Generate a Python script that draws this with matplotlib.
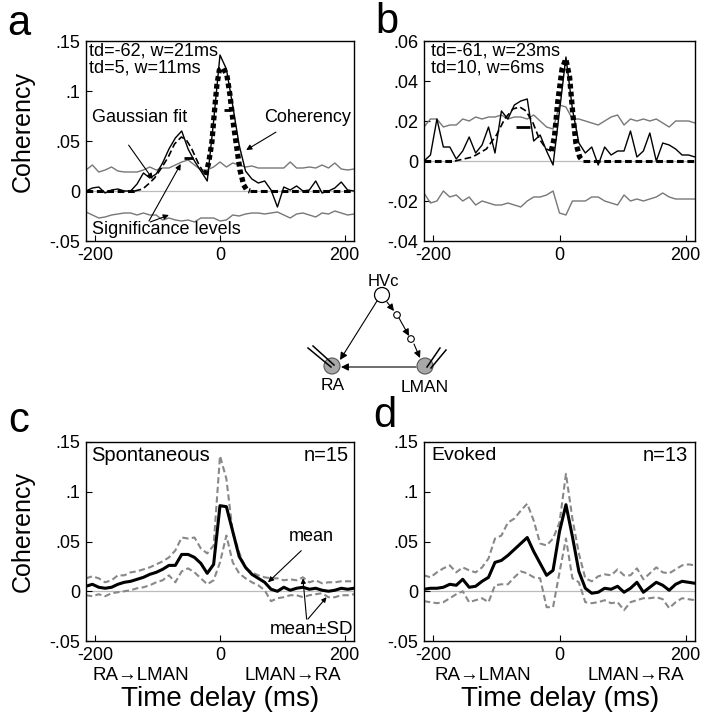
import numpy as np
import matplotlib
matplotlib.use('Agg')
import matplotlib.pyplot as plt
from matplotlib.patches import Circle

plt.rcParams['font.family'] = ['Liberation Sans', 'DejaVu Sans']

# time axis (ms), 43 bins across the window
t = np.linspace(-215, 215, 43)

# ---- panel a ----
coh_a = [0.000, 0.003, 0.004, -0.002, 0.001, 0.002, 0.000, 0.000, 0.007, 0.018, 0.013,
         0.017, 0.028, 0.042, 0.053, 0.060, 0.042, 0.030, 0.020, 0.010, 0.070, 0.136,
         0.122, 0.085, 0.046, 0.020, 0.012, 0.008, 0.010, 0.001, -0.016, 0.004, 0.001,
         0.005, 0.000, 0.001, 0.010, -0.002, 0.000, 0.003, 0.009, 0.001, 0.000]
sig_hi_a = [0.021, 0.026, 0.019, 0.021, 0.024, 0.020, 0.019, 0.019, 0.019, 0.021, 0.024,
            0.021, 0.023, 0.023, 0.026, 0.029, 0.031, 0.026, 0.021, 0.021, 0.024, 0.029,
            0.024, 0.028, 0.026, 0.024, 0.025, 0.023, 0.023, 0.023, 0.023, 0.023, 0.029,
            0.023, 0.023, 0.024, 0.023, 0.026, 0.023, 0.028, 0.022, 0.021, 0.022]
sig_lo_a = [-0.021, -0.024, -0.027, -0.026, -0.024, -0.023, -0.022, -0.022, -0.024, -0.022,
            -0.024, -0.024, -0.029, -0.027, -0.029, -0.030, -0.029, -0.031, -0.027, -0.027,
            -0.027, -0.030, -0.029, -0.024, -0.025, -0.023, -0.022, -0.022, -0.023, -0.022,
            -0.021, -0.024, -0.027, -0.023, -0.022, -0.024, -0.026, -0.022, -0.023, -0.020,
            -0.022, -0.024, -0.023]
fit1_t_a = [-137, -124, -113, -105, -94, -83, -73, -62, -54, -46, -35, -27, -23]
fit1_v_a = [0.000, 0.002, 0.008, 0.013, 0.023, 0.034, 0.047, 0.054, 0.051, 0.043, 0.028, 0.019, 0.016]
fit2_t_a = [-23, -18, -13, -9, -5, -1, 5, 11, 16, 21, 27, 32, 38, 43, 48]
fit2_v_a = [0.016, 0.029, 0.049, 0.079, 0.106, 0.121, 0.123, 0.116, 0.096, 0.069, 0.043,
            0.021, 0.006, 0.001, 0.000]
base_a = [(-215, -137), (48, 215)]
bars_a = [(-57, -43, 0.033), (7, 16, 0.081)]

# ---- panel b ----
coh_b = [0.000, 0.003, 0.021, 0.007, 0.007, 0.001, 0.005, 0.012, 0.004, 0.008, 0.017,
         0.004, 0.025, 0.021, 0.028, 0.030, 0.031, 0.010, 0.013, 0.005, -0.002, 0.025,
         0.052, 0.026, 0.009, 0.004, 0.007, -0.002, 0.007, 0.003, 0.005, 0.005, 0.015,
         0.002, 0.005, 0.014, 0.000, 0.009, 0.008, 0.006, 0.003, 0.003, 0.002]
sig_hi_b = [0.017, 0.021, 0.021, 0.017, 0.018, 0.018, 0.021, 0.020, 0.022, 0.021, 0.022,
            0.022, 0.023, 0.021, 0.022, 0.022, 0.021, 0.023, 0.020, 0.017, 0.016, 0.028,
            0.027, 0.021, 0.021, 0.020, 0.019, 0.018, 0.020, 0.022, 0.023, 0.018, 0.021,
            0.020, 0.021, 0.020, 0.021, 0.019, 0.017, 0.020, 0.020, 0.020, 0.019]
sig_lo_b = [-0.016, -0.021, -0.020, -0.015, -0.018, -0.017, -0.020, -0.018, -0.022, -0.020,
            -0.021, -0.022, -0.022, -0.021, -0.022, -0.023, -0.020, -0.018, -0.018, -0.017,
            -0.015, -0.026, -0.027, -0.020, -0.020, -0.020, -0.018, -0.018, -0.020, -0.021,
            -0.022, -0.017, -0.020, -0.019, -0.020, -0.019, -0.018, -0.016, -0.018, -0.019,
            -0.019, -0.019, -0.019]
fit1_t_b = [-166, -138, -116, -100, -87, -74, -63, -53, -42, -32, -21, -13]
fit1_v_b = [0.000, 0.002, 0.006, 0.013, 0.021, 0.026, 0.027, 0.025, 0.019, 0.011, 0.006, 0.005]
fit2_t_b = [-13, -8, -3, 4, 10, 16, 21, 26, 32, 37]
fit2_v_b = [0.005, 0.012, 0.029, 0.046, 0.051, 0.042, 0.024, 0.009, 0.002, 0.000]
base_b = [(-215, -166), (37, 215)]
bars_b = [(-69, -47, 0.017)]

# ---- panel c (spontaneous) ----
mean_c = [0.005, 0.007, 0.004, 0.003, 0.004, 0.007, 0.009, 0.010, 0.012, 0.014, 0.017,
          0.019, 0.022, 0.026, 0.026, 0.037, 0.037, 0.034, 0.028, 0.018, 0.027, 0.086,
          0.085, 0.060, 0.035, 0.024, 0.017, 0.013, 0.009, 0.002, 0.000, 0.004, 0.001,
          0.003, 0.004, 0.002, 0.003, 0.001, 0.000, 0.001, 0.003, 0.002, 0.003]
sd_hi_c = [0.013, 0.015, 0.013, 0.009, 0.011, 0.016, 0.016, 0.019, 0.020, 0.022, 0.024,
           0.027, 0.030, 0.034, 0.041, 0.054, 0.053, 0.054, 0.043, 0.038, 0.046, 0.136,
           0.113, 0.059, 0.039, 0.023, 0.019, 0.016, 0.014, 0.013, 0.013, 0.011, 0.012,
           0.011, 0.014, 0.009, 0.011, 0.008, 0.009, 0.009, 0.010, 0.010, 0.010]
sd_lo_c = [-0.004, -0.005, -0.003, -0.005, -0.002, -0.001, 0.000, 0.001, 0.003, 0.004, 0.006,
           0.009, 0.011, 0.016, 0.009, 0.020, 0.023, 0.019, 0.013, 0.007, 0.011, 0.029,
           0.056, 0.029, 0.018, 0.013, 0.009, 0.006, 0.001, -0.010, -0.007, -0.006, -0.004,
           -0.004, -0.006, -0.004, -0.003, -0.002, -0.006, -0.006, -0.004, -0.004, -0.003]

# ---- panel d (evoked) ----
mean_d = [0.002, 0.003, 0.003, 0.004, 0.007, 0.006, 0.012, 0.004, 0.005, 0.010, 0.014,
          0.029, 0.031, 0.036, 0.042, 0.048, 0.054, 0.040, 0.028, 0.016, 0.021, 0.060,
          0.087, 0.055, 0.020, 0.003, -0.002, -0.001, 0.003, 0.002, 0.005, -0.001, 0.003,
          0.009, -0.001, 0.004, 0.009, 0.006, 0.001, 0.007, 0.010, 0.009, 0.008]
sd_hi_d = [0.016, 0.014, 0.019, 0.023, 0.026, 0.019, 0.024, 0.021, 0.019, 0.024, 0.033,
           0.053, 0.056, 0.069, 0.073, 0.081, 0.088, 0.071, 0.048, 0.046, 0.053, 0.069,
           0.118, 0.073, 0.038, 0.013, 0.010, 0.015, 0.017, 0.016, 0.022, 0.016, 0.016,
           0.023, 0.012, 0.018, 0.024, 0.019, 0.018, 0.022, 0.026, 0.027, 0.026]
sd_lo_d = [-0.010, -0.011, -0.012, -0.011, -0.007, -0.003, 0.000, -0.011, -0.009, -0.007,
           -0.011, 0.006, 0.007, 0.007, 0.014, 0.020, 0.018, 0.014, 0.013, -0.016, -0.016,
           0.019, 0.053, 0.013, 0.009, -0.011, -0.012, -0.011, -0.009, -0.012, -0.011,
           -0.019, -0.011, -0.009, -0.007, -0.007, -0.006, -0.008, -0.017, -0.011, -0.007,
           -0.008, -0.009]

W, H = 702, 719
fig = plt.figure(figsize=(W / 100, H / 100), dpi=100)


def px_axes(x0, y0, x1, y1):
    return fig.add_axes([x0 / W, 1 - y1 / H, (x1 - x0) / W, (y1 - y0) / H])


def style(ax, ylim, yticks, ylabels):
    ax.set_xlim(-215, 215)
    ax.set_ylim(*ylim)
    ax.set_xticks([-200, 0, 200])
    ax.set_xticklabels(['-200', '0', '200'])
    ax.set_yticks(yticks)
    ax.set_yticklabels(ylabels)
    ax.tick_params(direction='in', length=4, width=0.8, labelsize=13, pad=4)
    for s in ax.spines.values():
        s.set_linewidth(1.0)
    ax.axhline(0, color='#bbbbbb', lw=0.9, zorder=1)


def draw_fit(ax, base, t1, v1, t2, v2, bars):
    for a, b in base:
        ax.plot([a, b], [0, 0], color='k', lw=2.2, ls=(0, (2.2, 1.2)), zorder=4)
    ax.plot(t1, v1, color='k', lw=1.2, ls=(0, (4, 2)), zorder=4)
    ax.plot(t2, v2, color='k', lw=3.8, ls=(0, (0.9, 0.6)), zorder=4)
    for a, b, y in bars:
        ax.plot([a, b], [y, y], color='k', lw=2.0, solid_capstyle='butt', zorder=5)


def arrow(ax, tip, tail, ms=8):
    ax.annotate('', xy=tip, xytext=tail,
                arrowprops=dict(arrowstyle='-|>', lw=0.8, color='k', mutation_scale=ms,
                                shrinkA=0, shrinkB=0))


ylab_a = ['-.05', '0', '.05', '.1', '.15']
ticks_a = [-0.05, 0, 0.05, 0.1, 0.15]

# diagram layer (pixel coordinates)
ax0 = fig.add_axes([0, 0, 1, 1])
ax0.set_xlim(0, W)
ax0.set_ylim(H, 0)
ax0.axis('off')
arrow(ax0, (340, 360), (377, 301), 11)
arrow(ax0, (341, 367), (416, 367), 11)
arrow(ax0, (394, 311), (387, 302), 10)
arrow(ax0, (409, 336), (399, 318), 10)
arrow(ax0, (420, 358), (414, 344), 10)
ax0.add_patch(Circle((382, 295), 7.5, fc='white', ec='k', lw=0.9))
ax0.add_patch(Circle((397, 315), 3.3, fc='white', ec='k', lw=0.8))
ax0.add_patch(Circle((411, 339), 3.3, fc='white', ec='k', lw=0.8))
ax0.add_patch(Circle((332, 366), 8, fc='#a8a8a8', ec='#555555', lw=0.8))
ax0.add_patch(Circle((425, 366), 8, fc='#a8a8a8', ec='#555555', lw=0.8))
ax0.plot([308, 331], [348, 367], color='k', lw=1.1)
ax0.plot([313, 334], [346, 365], color='k', lw=1.1)
ax0.plot([440, 427], [348, 367], color='k', lw=1.1)
ax0.plot([446, 431], [350, 368], color='k', lw=1.1)
ax0.text(383, 282, 'HVc', ha='center', va='center', fontsize=12)
ax0.text(333, 386, 'RA', ha='center', va='center', fontsize=12.5)
ax0.text(425, 387, 'LMAN', ha='center', va='center', fontsize=12.5)

# panel a
ax = px_axes(86, 41, 354, 241)
style(ax, (-0.05, 0.15), ticks_a, ylab_a)
ax.plot(t, sig_hi_a, color='#777777', lw=1.0, zorder=2)
ax.plot(t, sig_lo_a, color='#777777', lw=1.0, zorder=2)
ax.plot(t, coh_a, color='k', lw=1.0, zorder=3)
draw_fit(ax, base_a, fit1_t_a, fit1_v_a, fit2_t_a, fit2_v_a, bars_a)
ax.set_ylabel('Coherency', fontsize=18)
ax.yaxis.set_label_coords(-0.19, 0.55)
ax.text(-210, 0.148, 'td=-62, w=21ms\ntd=5, w=11ms', fontsize=13, va='top', linespacing=0.95)
ax.annotate('Gaussian fit', xy=(-108, 0.012), xytext=(-206, 0.073), fontsize=13,
            va='center', arrowprops=dict(arrowstyle='-|>', lw=0.8, color='k',
                                         mutation_scale=8, shrinkA=14, shrinkB=0,
                                         relpos=(0.25, 0)))
ax.annotate('Coherency', xy=(42, 0.041), xytext=(70, 0.073), fontsize=13,
            va='center', arrowprops=dict(arrowstyle='-|>', lw=0.8, color='k',
                                         mutation_scale=8, shrinkA=4, shrinkB=0,
                                         relpos=(0.25, 0)))
ax.text(-206, -0.039, 'Significance levels', fontsize=13, va='center')
arrow(ax, (-63, 0.027), (-114, -0.030))
arrow(ax, (-82, -0.024), (-112, -0.031))

# panel b
ax = px_axes(424, 41, 695, 241)
style(ax, (-0.04, 0.06), [-0.04, -0.02, 0, 0.02, 0.04, 0.06],
      ['-.04', '-.02', '0', '.02', '.04', '.06'])
ax.plot(t, sig_hi_b, color='#777777', lw=1.0, zorder=2)
ax.plot(t, sig_lo_b, color='#777777', lw=1.0, zorder=2)
ax.plot(t, coh_b, color='k', lw=1.0, zorder=3)
draw_fit(ax, base_b, fit1_t_b, fit1_v_b, fit2_t_b, fit2_v_b, bars_b)
ax.text(-204, 0.059, 'td=-61, w=23ms\ntd=10, w=6ms', fontsize=13, va='top', linespacing=0.95)

# panel c
ax = px_axes(86, 442, 354, 641)
style(ax, (-0.05, 0.15), ticks_a, ylab_a)
ax.plot(t, sd_hi_c, color='#888888', lw=1.5, ls=(0, (3, 1.6)), zorder=2)
ax.plot(t, sd_lo_c, color='#888888', lw=1.5, ls=(0, (3, 1.6)), zorder=2)
ax.plot(t, mean_c, color='k', lw=2.2, zorder=3)
ax.set_ylabel('Coherency', fontsize=18)
ax.yaxis.set_label_coords(-0.19, 0.55)
ax.text(-206, 0.136, 'Spontaneous', fontsize=14.5, va='center')
ax.text(206, 0.136, 'n=15', fontsize=14.5, va='center', ha='right')
ax.annotate('mean', xy=(77, 0.009), xytext=(111, 0.055), fontsize=13, va='center',
            arrowprops=dict(arrowstyle='-|>', lw=0.8, color='k', mutation_scale=8,
                            shrinkA=3, shrinkB=0, relpos=(0.4, 0)))
ax.text(80, -0.038, 'mean±SD', fontsize=13.5, va='center')
arrow(ax, (133, 0.013), (139, -0.028), 7)
arrow(ax, (171, -0.006), (141, -0.028), 7)

# panel d
ax = px_axes(424, 442, 695, 641)
style(ax, (-0.05, 0.15), ticks_a, ylab_a)
ax.plot(t, sd_hi_d, color='#888888', lw=1.5, ls=(0, (3, 1.6)), zorder=2)
ax.plot(t, sd_lo_d, color='#888888', lw=1.5, ls=(0, (3, 1.6)), zorder=2)
ax.plot(t, mean_d, color='k', lw=2.2, zorder=3)
ax.text(-204, 0.136, 'Evoked', fontsize=14, va='center')
ax.text(204, 0.136, 'n=13', fontsize=14.5, va='center', ha='right')

# bottom labels
for cx_l, cx_r, cx_t in [(141, 293, 220), (483, 636, 560)]:
    fig.text(cx_l / W, 1 - 675 / H, 'RA→LMAN', ha='center', va='center', fontsize=13.5)
    fig.text(cx_r / W, 1 - 675 / H, 'LMAN→RA', ha='center', va='center', fontsize=13.5)
    fig.text(cx_t / W, 1 - 699 / H, 'Time delay (ms)', ha='center', va='center', fontsize=20)

# panel letters
for ch, x, y in [('a', 19, 35), ('b', 387, 33), ('c', 19, 432), ('d', 385, 427)]:
    fig.text(x / W, 1 - y / H, ch, ha='center', va='baseline', fontsize=30)

fig.savefig('out.png', dpi=100)
